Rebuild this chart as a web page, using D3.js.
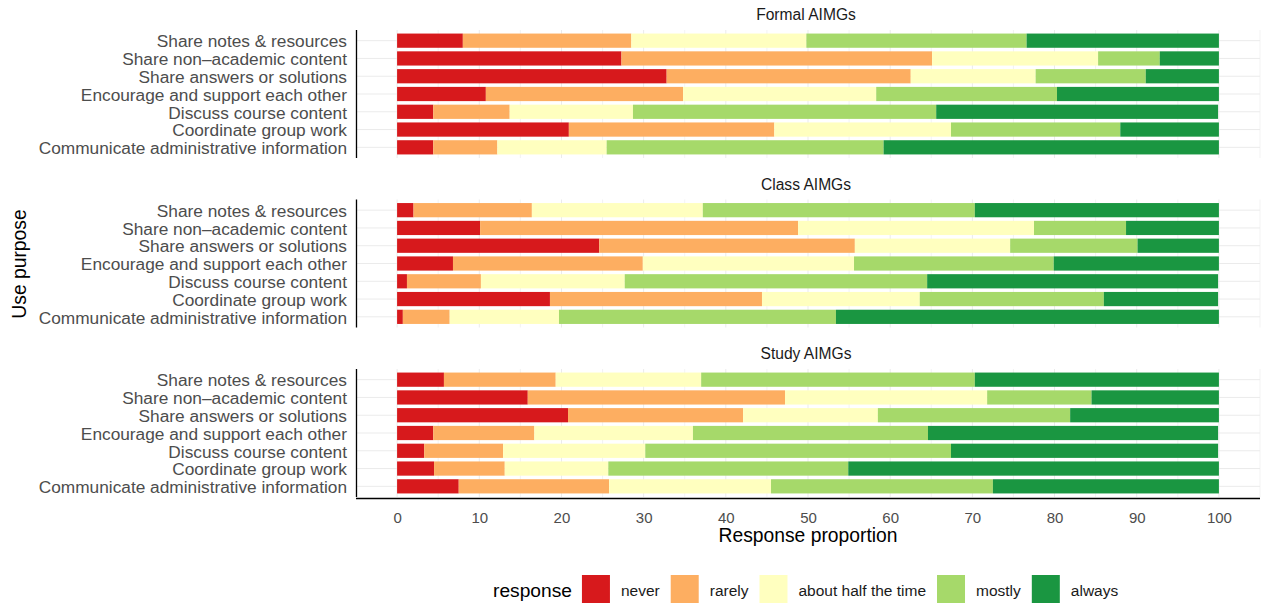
<!DOCTYPE html>
<html lang="en">
<head>
    <meta charset="UTF-8">
    <title>AIMG use purpose</title>
    <script src="https://d3js.org/d3.v7.min.js"></script>
    <style>
        body { margin: 0; background: #fff; }
        svg text { font-family: "Liberation Sans", Arial, Helvetica, sans-serif; }
        .grid line { stroke: #ebebeb; }
        .ylab { fill: #4d4d4d; font-size: 17.3px; }
        .xlab { fill: #4d4d4d; font-size: 15px; }
    </style>
</head>
<body>
    <svg id="chart" width="1261" height="605"></svg>
    <script>
        // categories, top to bottom
        const purposes = [
            "Share notes & resources",
            "Share non\u2013academic content",
            "Share answers or solutions",
            "Encourage and support each other",
            "Discuss course content",
            "Coordinate group work",
            "Communicate administrative information"
        ];
        const responses = ["never", "rarely", "about half the time", "mostly", "always"];
        const colors = ["#d7191c", "#fdae61", "#ffffbf", "#a6d96a", "#1a9641"];
        const panels = ["Formal AIMGs", "Class AIMGs", "Study AIMGs"];
        const xTicks = [0, 10, 20, 30, 40, 50, 60, 70, 80, 90, 100];

        // percent per response (never, rarely, half, mostly, always), one row per purpose
        const formalValues = [
            [8.0, 20.5, 21.3, 26.8, 23.4],
            [27.3, 37.8, 20.2, 7.5, 7.2],
            [32.8, 29.7, 15.2, 13.4, 8.9],
            [10.8, 24.0, 23.5, 22.0, 19.7],
            [4.4, 9.3, 15.0, 36.9, 34.3],
            [20.9, 25.0, 21.5, 20.6, 12.0],
            [4.4, 7.8, 13.3, 33.7, 40.8]
        ];
        const classValues = [
            [2.0, 14.4, 20.8, 33.1, 29.7],
            [10.1, 38.7, 28.7, 11.2, 11.3],
            [24.6, 31.1, 18.9, 15.5, 9.9],
            [6.8, 23.1, 25.7, 24.3, 20.1],
            [1.2, 9.0, 17.5, 36.8, 35.4],
            [18.6, 25.8, 19.2, 22.4, 13.9],
            [0.7, 5.7, 13.3, 33.7, 46.6]
        ];
        const studyValues = [
            [5.7, 13.6, 17.7, 33.3, 29.7],
            [15.9, 31.3, 24.6, 12.7, 15.5],
            [20.8, 21.3, 16.4, 23.4, 18.1],
            [4.4, 12.3, 19.3, 28.6, 35.3],
            [3.3, 9.6, 17.3, 37.2, 32.5],
            [4.5, 8.6, 12.6, 29.2, 45.1],
            [7.5, 18.3, 19.7, 27.0, 27.5]
        ];
        const panelValues = [formalValues, classValues, studyValues];

        const svg = d3.select("#chart");
        const left = 356, right = 1260;
        const panelTops = [30, 199.5, 369];
        const panelH = 128;

        const x = d3.scaleLinear().domain([-5, 105]).range([left, right]);
        const color = d3.scaleOrdinal().domain(responses).range(colors);
        const stack = d3.stack().keys(d3.range(responses.length));

        panels.forEach((name, p) => {
            const top = panelTops[p];
            const y = d3.scalePoint().domain(purposes).range([top, top + panelH]).padding(0.6);
            const barH = y.step() * 0.8;
            const g = svg.append("g");

            // grid
            const grid = g.append("g").attr("class", "grid");
            grid.selectAll(".minor").data(d3.range(-5, 106, 10)).enter().append("line")
                .attr("x1", d => x(d)).attr("x2", d => x(d))
                .attr("y1", top).attr("y2", top + panelH)
                .attr("stroke-width", 0.6);
            grid.selectAll(".major").data(xTicks).enter().append("line")
                .attr("x1", d => x(d)).attr("x2", d => x(d))
                .attr("y1", top).attr("y2", top + panelH)
                .attr("stroke-width", 1);
            grid.selectAll(".hz").data(purposes).enter().append("line")
                .attr("x1", left).attr("x2", right)
                .attr("y1", d => y(d)).attr("y2", d => y(d))
                .attr("stroke-width", 1);

            // bars
            const series = stack(panelValues[p]);
            g.selectAll(".layer").data(series).enter().append("g")
                .attr("fill", (d, i) => color(responses[i]))
                .selectAll("rect").data(d => d).enter().append("rect")
                .attr("x", d => x(d[0]))
                .attr("width", d => x(d[1]) - x(d[0]))
                .attr("y", (d, i) => y(purposes[i]) - barH / 2)
                .attr("height", barH);

            // y axis
            const yAxis = g.append("g").attr("transform", `translate(${left},0)`)
                .call(d3.axisLeft(y).tickSize(0).tickPadding(9));
            yAxis.select(".domain").attr("stroke", "#000").attr("stroke-width", 1.3)
                .attr("d", `M0.5,${top}V${top + panelH}`);
            yAxis.selectAll("text").attr("class", "ylab").attr("font-size", null)
                .attr("font-family", null).attr("dy", "0.36em");

            // strip title
            g.append("text").attr("x", (left + right) / 2 - 2).attr("y", top - 10)
                .attr("text-anchor", "middle").attr("font-size", 15.6).attr("fill", "#1a1a1a")
                .text(name);
        });

        // x axis on the bottom panel
        const bottom = panelTops[2] + panelH + 1;
        const xAxis = svg.append("g").attr("transform", `translate(0,${bottom})`)
            .call(d3.axisBottom(x).tickValues(xTicks).tickSize(0).tickPadding(14));
        xAxis.select(".domain").attr("stroke", "#000").attr("stroke-width", 1.5)
            .attr("d", `M${left},0.5H${right}`);
        xAxis.selectAll("text").attr("class", "xlab").attr("font-size", null).attr("font-family", null);

        svg.append("text").attr("x", (left + right) / 2).attr("y", 542)
            .attr("text-anchor", "middle").attr("font-size", 19.3).attr("fill", "#000")
            .text("Response proportion");

        svg.append("text").attr("transform", `translate(26,${(panelTops[0] + bottom) / 2}) rotate(-90)`)
            .attr("text-anchor", "middle").attr("font-size", 19.3).attr("fill", "#000")
            .text("Use purpose");

        // legend
        const legend = svg.append("g");
        let lx = 493;
        const title = legend.append("text").attr("x", lx).attr("y", 597)
            .attr("font-size", 19.2).attr("fill", "#000").text("response");
        lx += title.node().getComputedTextLength() + 10;
        responses.forEach((r, i) => {
            legend.append("rect").attr("x", lx).attr("y", 575).attr("width", 28).attr("height", 28)
                .attr("fill", color(r));
            lx += 28 + 11;
            const t = legend.append("text").attr("x", lx).attr("y", 595.5)
                .attr("font-size", 15.5).attr("fill", "#1a1a1a").text(r);
            lx += t.node().getComputedTextLength() + 11;
        });
    </script>
</body>
</html>
